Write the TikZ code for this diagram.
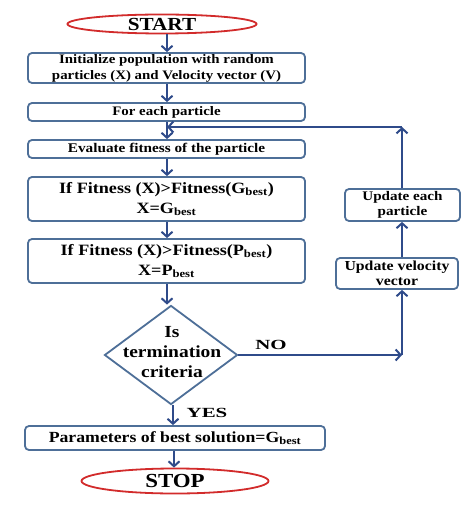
\documentclass[tikz,border=0pt]{standalone}
\usepackage{fontspec}
\setmainfont[FakeStretch=1.15]{Liberation Serif}
\newfontfamily\widefont[FakeStretch=1.5]{Liberation Serif}
\usetikzlibrary{shapes.geometric,arrows.meta}
\definecolor{boxc}{HTML}{4E6F98}
\definecolor{arrc}{HTML}{2F4B8A}
\definecolor{redc}{HTML}{D22B2B}
\tikzset{
  box/.style={draw=boxc,line width=1.8bp,rounded corners=4bp,align=center,font=\bfseries,inner sep=1bp},
  oval/.style={draw=redc,ellipse,line width=1.8bp,inner sep=0pt},
  arr/.style={draw=arrc,line width=2.2bp,-{Straight Barb[length=5bp,width=11bp,line width=2bp]}},
  lbl/.style={font=\widefont\bfseries\fontsize{14}{15}\selectfont},
}
\begin{document}
\begin{tikzpicture}[x=1bp,y=-1bp]
\useasboundingbox[fill=white] (0,0) rectangle (474,507);
\node[oval,minimum width=189bp,minimum height=19bp,font=\bfseries\fontsize{18.5}{20}\selectfont] (start) at (162,24) {START};
\node[box,minimum width=277bp,minimum height=30bp,font=\bfseries\fontsize{13}{16}\selectfont] (init) at (166.5,68) {Initialize population with random\\particles (X) and Velocity vector (V)};
\node[box,minimum width=277bp,minimum height=18bp,font=\bfseries\fontsize{13}{15}\selectfont] (each) at (166.5,112) {For each particle};
\node[box,minimum width=277bp,minimum height=18bp,font=\bfseries\fontsize{13.3}{15}\selectfont] (eval) at (166.5,149) {Evaluate fitness of the particle};
\node[box,minimum width=277bp,minimum height=44bp,font=\bfseries\fontsize{15.8}{20}\selectfont] (gb) at (166.5,199) {If Fitness (X)>Fitness(G\textsubscript{best})\\X=G\textsubscript{best}};
\node[box,minimum width=277bp,minimum height=44bp,font=\bfseries\fontsize{15.8}{20}\selectfont] (pb) at (166.5,261) {If Fitness (X)>Fitness(P\textsubscript{best})\\X=P\textsubscript{best}};
\node[diamond,draw=boxc,line width=1.8bp,minimum width=133bp,minimum height=99bp,inner sep=0pt] (dia) at (171,355) {};
\node[align=center,font=\bfseries\fontsize{17}{20}\selectfont] (diat) at (172,352) {Is\\termination\\criteria};
\node[box,minimum width=300bp,minimum height=24bp,font=\bfseries\fontsize{15.5}{16}\selectfont] (par) at (175,438) {Parameters of best solution=G\textsubscript{best}};
\node[oval,minimum width=187bp,minimum height=25bp,font=\bfseries\fontsize{20}{21}\selectfont] (stop) at (175,481) {STOP};
\node[box,minimum width=122bp,minimum height=31bp,font=\bfseries\fontsize{13.8}{15}\selectfont] (vel) at (397,273.5) {Update velocity\\vector};
\node[box,minimum width=115bp,minimum height=32bp,font=\bfseries\fontsize{13.2}{15}\selectfont] (upd) at (402.5,205) {Update each\\particle};
\node[lbl] (no) at (271,345) {NO};
\node[lbl] (yes) at (207,413) {YES};
\coordinate (c1) at (402,355);
\coordinate (c2) at (402,127);
\coordinate (j) at (167,127);
\draw[arr] (start.south -| 167,0) -- (init.north -| 167,0);
\draw[arr] (init.south -| 167,0) -- (each.north -| 167,0);
\draw[arr] (each.south -| 167,0) -- (eval.north -| 167,0);
\draw[arr] (eval.south -| 167,0) -- (gb.north -| 167,0);
\draw[arr] (gb.south -| 167,0) -- (pb.north -| 167,0);
\draw[arr] (pb.south -| 167,0) -- (dia.north -| 167,0);
\draw[arr] (dia.south -| 173,0) -- (par.north -| 173,0);
\draw[arr] (par.south -| 174,0) -- (stop.north -| 174,0);
\draw[arr] (dia.east) -- (c1);
\draw[arr] (c1) -- (vel.south -| c1);
\draw[arr] (vel.north -| c1) -- (upd.south -| c1);
\draw[arr] (upd.north -| c1) -- (c2);
\draw[arr] (c2) -- (j);
\end{tikzpicture}
\end{document}
